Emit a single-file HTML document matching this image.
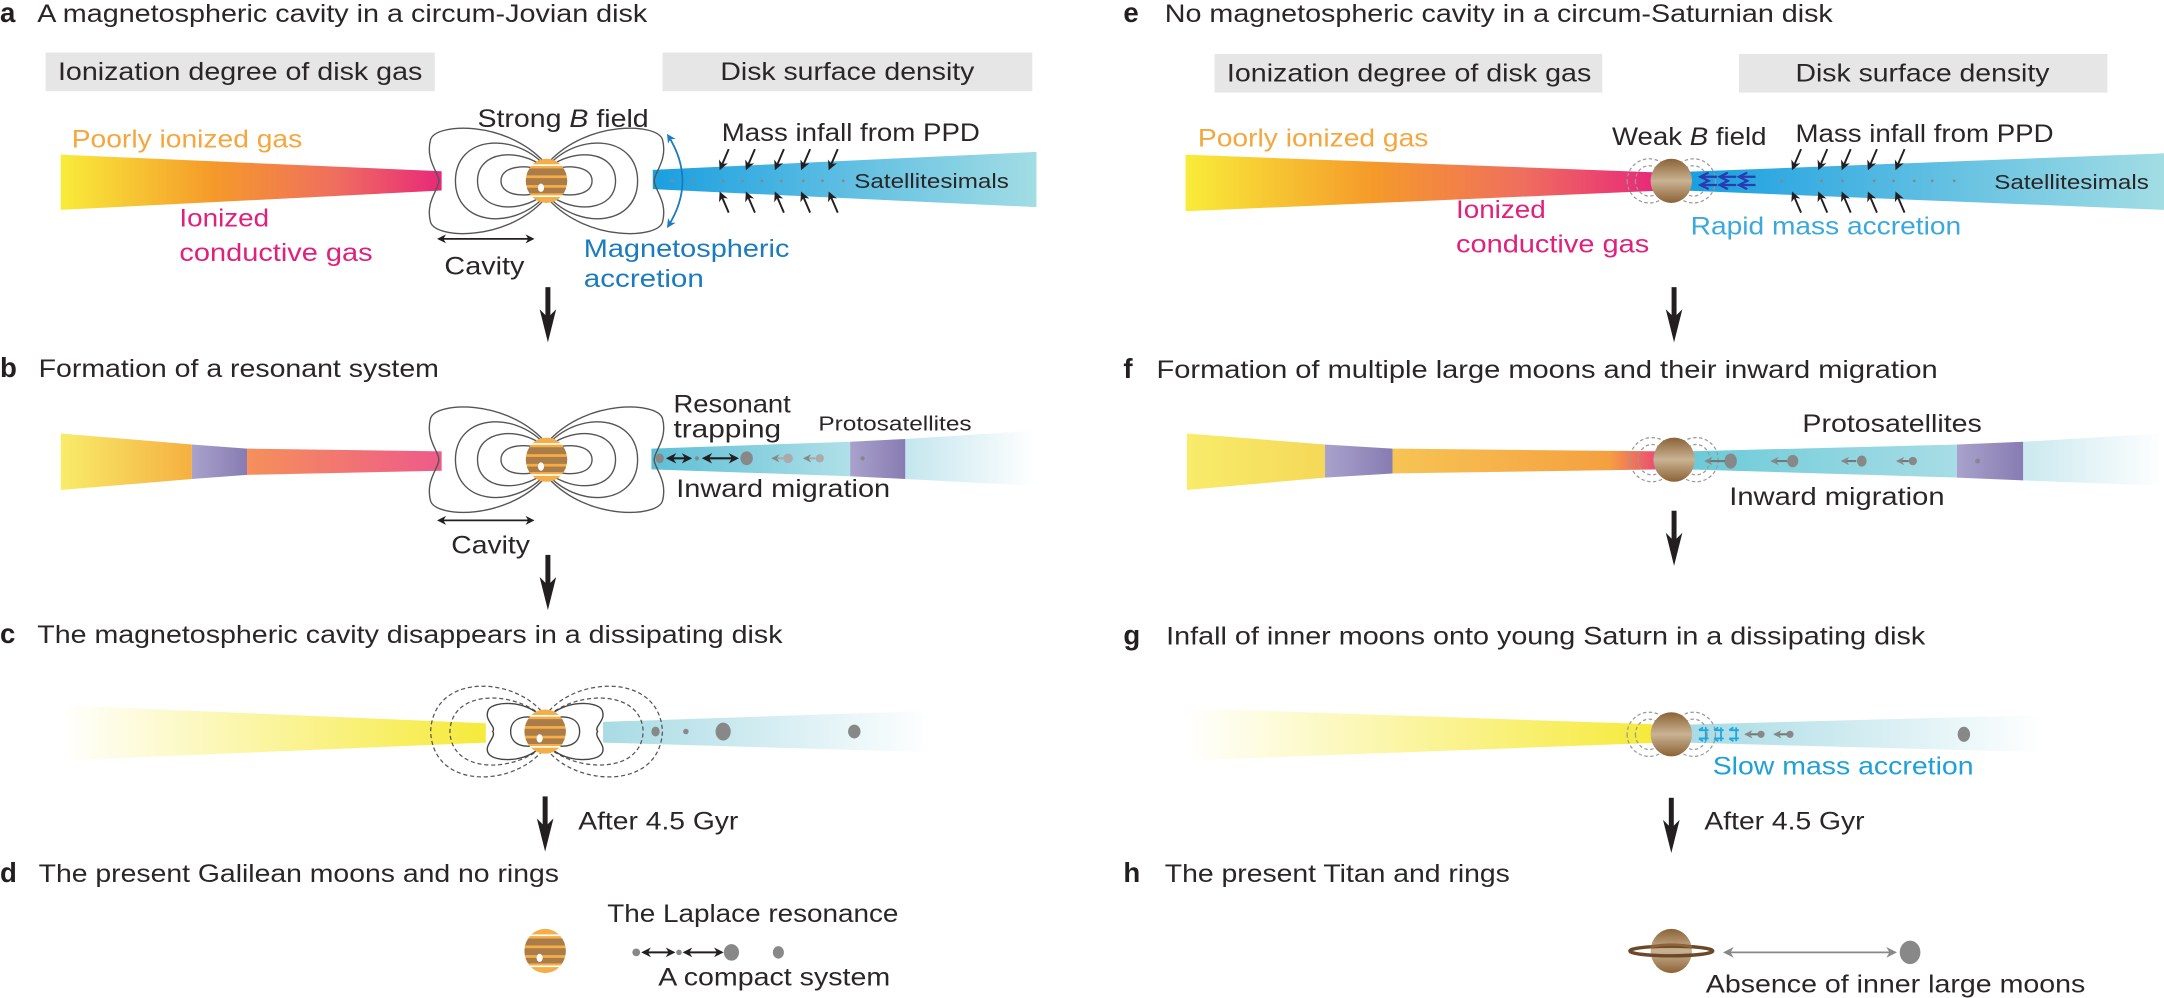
<!DOCTYPE html>
<html><head><meta charset="utf-8"><style>
html,body{margin:0;padding:0;background:#fff;}
svg{display:block;}
text{font-family:"Liberation Sans",sans-serif;fill:#2a2627;}
.b{font-weight:bold;fill:#231f20;}
</style></head><body>
<svg width="2164" height="998" viewBox="0 0 1568 723" xmlns="http://www.w3.org/2000/svg">
<defs>
<linearGradient id="gaL" gradientUnits="userSpaceOnUse" x1="44" x2="320"><stop offset="0" stop-color="#f8ec3a"/><stop offset="0.4" stop-color="#f59a2a"/><stop offset="0.72" stop-color="#ef6e5e"/><stop offset="1" stop-color="#e8287a"/></linearGradient>
<linearGradient id="gaR" gradientUnits="userSpaceOnUse" x1="473" x2="751"><stop offset="0" stop-color="#1a9fe0"/><stop offset="1" stop-color="#a2dde4"/></linearGradient>
<linearGradient id="geL" gradientUnits="userSpaceOnUse" x1="859" x2="1199"><stop offset="0" stop-color="#f8ec3a"/><stop offset="0.4" stop-color="#f59a2a"/><stop offset="0.72" stop-color="#ef6e5e"/><stop offset="1" stop-color="#e8287a"/></linearGradient>
<linearGradient id="geR" gradientUnits="userSpaceOnUse" x1="1226" x2="1568"><stop offset="0" stop-color="#1a9fe0"/><stop offset="1" stop-color="#a2dde4"/></linearGradient>
<linearGradient id="gb1" gradientUnits="userSpaceOnUse" x1="44" x2="139"><stop offset="0" stop-color="#f8ec6a"/><stop offset="1" stop-color="#f5b040"/></linearGradient>
<linearGradient id="gb2" gradientUnits="userSpaceOnUse" x1="179" x2="320"><stop offset="0" stop-color="#f5905a"/><stop offset="1" stop-color="#ee5a8a"/></linearGradient>
<linearGradient id="gpur" x1="0" x2="1"><stop offset="0" stop-color="#a9a2cc"/><stop offset="1" stop-color="#877cb2"/></linearGradient>
<linearGradient id="gb3" gradientUnits="userSpaceOnUse" x1="472" x2="616"><stop offset="0" stop-color="#5dbfd5"/><stop offset="1" stop-color="#b0e0e8"/></linearGradient>
<linearGradient id="gb4" gradientUnits="userSpaceOnUse" x1="656" x2="750"><stop offset="0" stop-color="#c4e6ee"/><stop offset="1" stop-color="#ffffff"/></linearGradient>
<linearGradient id="gf1" gradientUnits="userSpaceOnUse" x1="860" x2="960"><stop offset="0" stop-color="#f8ec6a"/><stop offset="1" stop-color="#f5d858"/></linearGradient>
<linearGradient id="gf2" gradientUnits="userSpaceOnUse" x1="1009" x2="1205"><stop offset="0" stop-color="#f6c454"/><stop offset="0.8" stop-color="#f5a040"/><stop offset="1" stop-color="#e8407a"/></linearGradient>
<linearGradient id="gf3" gradientUnits="userSpaceOnUse" x1="1229" x2="1419"><stop offset="0" stop-color="#6ccbd8"/><stop offset="1" stop-color="#a8dde6"/></linearGradient>
<linearGradient id="gf4" gradientUnits="userSpaceOnUse" x1="1466" x2="1568"><stop offset="0" stop-color="#cbe9ef"/><stop offset="1" stop-color="#ffffff"/></linearGradient>
<linearGradient id="gcL" gradientUnits="userSpaceOnUse" x1="44" x2="352"><stop offset="0" stop-color="#f6ea3a" stop-opacity="0"/><stop offset="1" stop-color="#f6ea3a"/></linearGradient>
<linearGradient id="gcR" gradientUnits="userSpaceOnUse" x1="437" x2="675"><stop offset="0" stop-color="#a8dbe4"/><stop offset="1" stop-color="#a8dbe4" stop-opacity="0"/></linearGradient>
<linearGradient id="ggL" gradientUnits="userSpaceOnUse" x1="859" x2="1199"><stop offset="0" stop-color="#f6ea3a" stop-opacity="0"/><stop offset="1" stop-color="#f6ea3a"/></linearGradient>
<linearGradient id="ggR" gradientUnits="userSpaceOnUse" x1="1226" x2="1480"><stop offset="0" stop-color="#a8dbe4"/><stop offset="1" stop-color="#a8dbe4" stop-opacity="0"/></linearGradient>
<linearGradient id="gsat" x1="0" y1="0" x2="0" y2="1"><stop offset="0" stop-color="#8c6236"/><stop offset="0.5" stop-color="#c9b393"/><stop offset="1" stop-color="#8c6236"/></linearGradient>
<clipPath id="jc"><ellipse cx="0" cy="0" rx="15" ry="16"/></clipPath>
<g id="jup">
 <ellipse cx="0" cy="0" rx="15" ry="16" fill="#f5ad45"/>
 <g clip-path="url(#jc)">
  <rect x="-16" y="-9" width="32" height="5" fill="#a97c4a"/>
  <rect x="-16" y="-2" width="32" height="5" fill="#a97c4a"/>
  <rect x="-16" y="5" width="32" height="4" fill="#a97c4a"/>
  <rect x="-16" y="-12" width="32" height="1.2" fill="#fff"/>
  <rect x="-16" y="10.5" width="32" height="1.2" fill="#fff"/>
 </g>
 <ellipse cx="-4" cy="5" rx="2.2" ry="3" fill="#fff"/>
</g>
<g id="sat"><ellipse cx="0" cy="0" rx="15" ry="16" fill="url(#gsat)"/></g>
<g id="half" fill="none" stroke="#555" stroke-width="1">
 <path d="M2,-7 C12,-12 33,-12 33,0 C33,12 12,12 2,7"/>
 <path d="M2,-10 C20,-24 50,-22 50,0 C50,22 20,24 2,10"/>
 <path d="M2,-12 C25,-36 66,-32 66,0 C66,32 25,36 2,12"/>
 <path d="M2,-14 C30,-44 80,-42 84,-30 C88,-15 78,-6 78,0 C78,6 88,15 84,30 C80,42 30,44 2,14"/>
</g>
<g id="field"><use href="#half"/><use href="#half" transform="scale(-1,1)"/></g>
<g id="shalf" fill="none" stroke="#999" stroke-width="0.9" stroke-dasharray="2.5,1.8">
 <ellipse cx="16" cy="0" rx="10" ry="11"/>
 <ellipse cx="16" cy="0" rx="16" ry="16"/>
</g>
<g id="sfield"><use href="#shalf"/><use href="#shalf" transform="scale(-1,1)"/></g>
<marker id="ah" viewBox="0 0 10 10" refX="8" refY="5" markerWidth="5" markerHeight="5" orient="auto-start-reverse"><path d="M0,0 L10,5 L0,10 L3,5 z" fill="#231f20"/></marker>
<marker id="ahb" viewBox="0 0 10 10" refX="8" refY="5" markerWidth="5" markerHeight="5" orient="auto-start-reverse"><path d="M0,0 L10,5 L0,10 L3,5 z" fill="#1a7bbf"/></marker>
<marker id="ahg" viewBox="0 0 10 10" refX="8" refY="5" markerWidth="4" markerHeight="4" orient="auto-start-reverse"><path d="M0,0 L10,5 L0,10 L3,5 z" fill="#888"/></marker>
<marker id="ahg2" viewBox="0 0 10 10" refX="8" refY="5" markerWidth="6" markerHeight="6" orient="auto-start-reverse"><path d="M0,0 L10,5 L0,10 L3,5 z" fill="#888"/></marker>
<g id="bigarrow"><rect x="-1.8" y="0" width="3.6" height="22" fill="#231f20"/><path d="M-6,16 L0,40 L6,16 L0,22 z" fill="#231f20"/></g>
</defs>

<!-- ===== a ===== -->
<text x="0" y="16" font-size="20" class="b">a</text>
<text x="27" y="16" font-size="18" textLength="442" lengthAdjust="spacingAndGlyphs">A magnetospheric cavity in a circum-Jovian disk</text>
<rect x="33" y="38" width="282" height="28" fill="#e6e6e7"/>
<rect x="480" y="38" width="268" height="28" fill="#e6e6e7"/>
<text x="42" y="58" font-size="18" textLength="264" lengthAdjust="spacingAndGlyphs">Ionization degree of disk gas</text>
<text x="522" y="58" font-size="18" textLength="184" lengthAdjust="spacingAndGlyphs">Disk surface density</text>
<polygon points="44,112 320,124 320,138 44,152" fill="url(#gaL)"/>
<polygon points="473,123 751,110 751,150 473,137" fill="url(#gaR)"/>
<g fill="#888"><circle cx="487" cy="131" r="1"/><circle cx="502" cy="131" r="1"/><circle cx="524" cy="131" r="1"/><circle cx="538" cy="131" r="1"/><circle cx="552" cy="131" r="1"/><circle cx="566" cy="131" r="1"/><circle cx="582" cy="131" r="1"/><circle cx="596" cy="131" r="1"/><circle cx="611" cy="131" r="1"/></g>
<use href="#field" x="396" y="131"/>
<use href="#jup" x="396" y="131"/>
<path d="M484,98 Q505,131 484,164" fill="none" stroke="#1a7bbf" stroke-width="1.3" marker-start="url(#ahb)" marker-end="url(#ahb)"/>
<g stroke="#231f20" stroke-width="1.4" marker-end="url(#ah)">
<line x1="528" y1="108" x2="522" y2="122"/><line x1="547" y1="108" x2="541" y2="122"/><line x1="568" y1="108" x2="562" y2="122"/><line x1="587" y1="108" x2="581" y2="122"/><line x1="607" y1="108" x2="601" y2="122"/>
<line x1="528" y1="154" x2="522" y2="140"/><line x1="547" y1="154" x2="541" y2="140"/><line x1="568" y1="154" x2="562" y2="140"/><line x1="587" y1="154" x2="581" y2="140"/><line x1="607" y1="154" x2="601" y2="140"/>
</g>
<line x1="318" y1="173" x2="386" y2="173" stroke="#231f20" stroke-width="1.3" marker-start="url(#ah)" marker-end="url(#ah)"/>
<text x="52" y="107" font-size="18" style="fill:#f5a63c" textLength="167" lengthAdjust="spacingAndGlyphs">Poorly ionized gas</text>
<text x="130" y="164" font-size="18" style="fill:#e0207a" textLength="65" lengthAdjust="spacingAndGlyphs">Ionized</text>
<text x="130" y="189" font-size="18" style="fill:#e0207a" textLength="140" lengthAdjust="spacingAndGlyphs">conductive gas</text>
<text x="346" y="92" font-size="18" textLength="124" lengthAdjust="spacingAndGlyphs">Strong <tspan font-style="italic">B</tspan> field</text>
<text x="523" y="102" font-size="18" textLength="187" lengthAdjust="spacingAndGlyphs">Mass infall from PPD</text>
<text x="619" y="136" font-size="15" textLength="112" lengthAdjust="spacingAndGlyphs">Satellitesimals</text>
<text x="322" y="199" font-size="18" textLength="58" lengthAdjust="spacingAndGlyphs">Cavity</text>
<text x="423" y="186" font-size="18" style="fill:#1a7bbf" textLength="149" lengthAdjust="spacingAndGlyphs">Magnetospheric</text>
<text x="423" y="208" font-size="18" style="fill:#1a7bbf" textLength="87" lengthAdjust="spacingAndGlyphs">accretion</text>
<use href="#bigarrow" x="397" y="208"/>

<!-- ===== b ===== -->
<text x="0" y="273" font-size="20" class="b">b</text>
<text x="28" y="273" font-size="18" textLength="290" lengthAdjust="spacingAndGlyphs">Formation of a resonant system</text>
<polygon points="44,314 139,322 139,347 44,355" fill="url(#gb1)"/>
<polygon points="139,322 179,325 179,344 139,347" fill="url(#gpur)"/>
<polygon points="179,325 320,327 320,341 179,344" fill="url(#gb2)"/>
<polygon points="472,325 616,320 616,345 472,340" fill="url(#gb3)"/>
<polygon points="616,320 656,318 656,347 616,345" fill="url(#gpur)"/>
<polygon points="656,318 750,312 750,352 656,347" fill="url(#gb4)"/>
<use href="#field" x="396" y="333"/>
<use href="#jup" x="396" y="333"/>
<g fill="#888"><ellipse cx="478" cy="332" rx="3" ry="3.5"/><circle cx="505" cy="332" r="1.5"/><ellipse cx="541" cy="332" rx="4.5" ry="5"/><circle cx="571" cy="332" r="3.5" fill="#aaa"/><circle cx="594" cy="332" r="3" fill="#aaa"/><circle cx="625" cy="332" r="1.6"/></g>
<line x1="484" y1="332" x2="500" y2="332" stroke="#231f20" stroke-width="1.5" marker-start="url(#ah)" marker-end="url(#ah)"/>
<line x1="510" y1="332" x2="534" y2="332" stroke="#231f20" stroke-width="1.5" marker-start="url(#ah)" marker-end="url(#ah)"/>
<line x1="568" y1="332" x2="560" y2="332" stroke="#aaa" stroke-width="1.5" marker-end="url(#ahg)"/>
<line x1="591" y1="332" x2="583" y2="332" stroke="#aaa" stroke-width="1.5" marker-end="url(#ahg)"/>
<text x="488" y="299" font-size="18" textLength="85" lengthAdjust="spacingAndGlyphs">Resonant</text>
<text x="488" y="317" font-size="18" textLength="78" lengthAdjust="spacingAndGlyphs">trapping</text>
<text x="593" y="312" font-size="15" textLength="111" lengthAdjust="spacingAndGlyphs">Protosatellites</text>
<text x="490" y="360" font-size="18" textLength="155" lengthAdjust="spacingAndGlyphs">Inward migration</text>
<line x1="318" y1="377" x2="386" y2="377" stroke="#231f20" stroke-width="1.3" marker-start="url(#ah)" marker-end="url(#ah)"/>
<text x="327" y="401" font-size="18" textLength="57" lengthAdjust="spacingAndGlyphs">Cavity</text>
<use href="#bigarrow" x="397" y="402"/>

<!-- ===== c ===== -->
<text x="0" y="466" font-size="20" class="b">c</text>
<text x="27" y="466" font-size="18" textLength="540" lengthAdjust="spacingAndGlyphs">The magnetospheric cavity disappears in a dissipating disk</text>
<polygon points="44,511 352,524 352,538 44,551" fill="url(#gcL)"/>
<polygon points="437,523 675,515 675,545 437,538" fill="url(#gcR)"/>
<g fill="none" stroke="#555" stroke-width="0.9" stroke-dasharray="3,2">
<path d="M398,515 C420,490 478,488 480,530 C478,572 420,570 398,545"/>
<path d="M398,518 C420,500 465,500 466,530 C465,560 420,560 398,542"/>
<path d="M392,515 C370,490 314,488 312,530 C314,572 370,570 392,545"/>
<path d="M392,518 C370,500 327,500 326,530 C327,560 370,560 392,542"/>
</g>
<g fill="none" stroke="#444" stroke-width="1">
<path d="M398,519 C410,507 432,508 436,514 C440,522 430,526 433,530 C430,534 440,540 436,546 C432,552 410,553 398,541"/>
<path d="M398,522 C407,517 420,519 420,530 C420,541 407,543 398,538"/>
<path d="M392,519 C380,507 358,508 354,514 C350,522 360,526 357,530 C360,534 350,540 354,546 C358,552 380,553 392,541"/>
<path d="M392,522 C383,517 370,519 370,530 C370,541 383,543 392,538"/>
</g>
<use href="#jup" x="395" y="530"/>
<g fill="#888"><ellipse cx="475" cy="530" rx="3" ry="3.6"/><circle cx="497" cy="530" r="2"/><ellipse cx="524" cy="530" rx="5.5" ry="6.5"/><ellipse cx="619" cy="530" rx="4.5" ry="5"/></g>
<use href="#bigarrow" x="395" y="577"/>
<text x="419" y="601" font-size="18" textLength="116" lengthAdjust="spacingAndGlyphs">After 4.5 Gyr</text>

<!-- ===== d ===== -->
<text x="0" y="639" font-size="20" class="b">d</text>
<text x="28" y="639" font-size="18" textLength="377" lengthAdjust="spacingAndGlyphs">The present Galilean moons and no rings</text>
<use href="#jup" x="395" y="689"/>
<text x="440" y="668" font-size="18" textLength="211" lengthAdjust="spacingAndGlyphs">The Laplace resonance</text>
<g fill="#888"><circle cx="461" cy="690" r="2.8"/><circle cx="492" cy="690" r="2"/><ellipse cx="530" cy="690" rx="5.5" ry="6"/><ellipse cx="564" cy="690" rx="4" ry="4.5"/></g>
<line x1="466" y1="690" x2="488" y2="690" stroke="#231f20" stroke-width="1.4" marker-start="url(#ah)" marker-end="url(#ah)"/>
<line x1="496" y1="690" x2="523" y2="690" stroke="#231f20" stroke-width="1.4" marker-start="url(#ah)" marker-end="url(#ah)"/>
<text x="477" y="714" font-size="18" textLength="168" lengthAdjust="spacingAndGlyphs">A compact system</text>

<!-- ===== e ===== -->
<text x="814" y="16" font-size="20" class="b">e</text>
<text x="844" y="16" font-size="18" textLength="484" lengthAdjust="spacingAndGlyphs">No magnetospheric cavity in a circum-Saturnian disk</text>
<rect x="880" y="39" width="281" height="28" fill="#e6e6e7"/>
<rect x="1260" y="39" width="267" height="28" fill="#e6e6e7"/>
<text x="889" y="59" font-size="18" textLength="264" lengthAdjust="spacingAndGlyphs">Ionization degree of disk gas</text>
<text x="1301" y="59" font-size="18" textLength="184" lengthAdjust="spacingAndGlyphs">Disk surface density</text>
<polygon points="859,112 1205,125 1205,138 859,153" fill="url(#geL)"/>
<polygon points="1220,124.5 1568,111 1568,152 1220,138" fill="url(#geR)"/>
<g fill="#888"><circle cx="1291" cy="131" r="1"/><circle cx="1320" cy="131" r="1"/><circle cx="1335" cy="131" r="1"/><circle cx="1358" cy="131" r="1"/><circle cx="1372" cy="131" r="1"/><circle cx="1387" cy="131" r="1"/><circle cx="1400" cy="131" r="1"/><circle cx="1416" cy="131" r="1"/></g>
<use href="#sfield" x="1211" y="131"/>
<use href="#sat" x="1211" y="131"/>
<g fill="none" stroke="#2a3ab0" stroke-width="1.6">
<path d="M1238,125 L1232,128 L1238,131 L1232,134 L1238,137"/><path d="M1252,125 L1246,128 L1252,131 L1246,134 L1252,137"/><path d="M1266,125 L1260,128 L1266,131 L1260,134 L1266,137"/>
<line x1="1232" y1="128" x2="1244" y2="128"/><line x1="1232" y1="134" x2="1244" y2="134"/><line x1="1246" y1="128" x2="1258" y2="128"/><line x1="1246" y1="134" x2="1258" y2="134"/><line x1="1260" y1="128" x2="1272" y2="128"/><line x1="1260" y1="134" x2="1272" y2="134"/>
</g>
<g stroke="#231f20" stroke-width="1.4" marker-end="url(#ah)">
<line x1="1305" y1="108" x2="1299" y2="122"/><line x1="1324" y1="108" x2="1318" y2="122"/><line x1="1341" y1="108" x2="1335" y2="122"/><line x1="1360" y1="108" x2="1354" y2="122"/><line x1="1380" y1="108" x2="1374" y2="122"/>
<line x1="1305" y1="154" x2="1299" y2="140"/><line x1="1324" y1="154" x2="1318" y2="140"/><line x1="1341" y1="154" x2="1335" y2="140"/><line x1="1360" y1="154" x2="1354" y2="140"/><line x1="1380" y1="154" x2="1374" y2="140"/>
</g>
<text x="868" y="106" font-size="18" style="fill:#f5a63c" textLength="167" lengthAdjust="spacingAndGlyphs">Poorly ionized gas</text>
<text x="1055" y="158" font-size="18" style="fill:#e0207a" textLength="65" lengthAdjust="spacingAndGlyphs">Ionized</text>
<text x="1055" y="183" font-size="18" style="fill:#e0207a" textLength="140" lengthAdjust="spacingAndGlyphs">conductive gas</text>
<text x="1168" y="105" font-size="18" textLength="112" lengthAdjust="spacingAndGlyphs">Weak <tspan font-style="italic">B</tspan> field</text>
<text x="1301" y="103" font-size="18" textLength="187" lengthAdjust="spacingAndGlyphs">Mass infall from PPD</text>
<text x="1445" y="137" font-size="15" textLength="112" lengthAdjust="spacingAndGlyphs">Satellitesimals</text>
<text x="1225" y="170" font-size="18" style="fill:#3aa8dc" textLength="196" lengthAdjust="spacingAndGlyphs">Rapid mass accretion</text>
<use href="#bigarrow" x="1213" y="208"/>

<!-- ===== f ===== -->
<text x="814" y="274" font-size="20" class="b">f</text>
<text x="838" y="274" font-size="18" textLength="566" lengthAdjust="spacingAndGlyphs">Formation of multiple large moons and their inward migration</text>
<polygon points="860,314 960,322 960,346 860,355" fill="url(#gf1)"/>
<polygon points="960,322 1009,325 1009,343 960,346" fill="url(#gpur)"/>
<polygon points="1009,325 1205,327 1205,340 1009,343" fill="url(#gf2)"/>
<polygon points="1222,327 1419,322 1419,346 1222,340" fill="url(#gf3)"/>
<polygon points="1418,322 1466,320 1466,348 1418,346" fill="url(#gpur)"/>
<polygon points="1466,320 1568,314 1568,352 1466,348" fill="url(#gf4)"/>
<use href="#sfield" x="1213" y="333"/>
<use href="#sat" x="1213" y="333"/>
<g fill="#888"><ellipse cx="1254" cy="334" rx="4.5" ry="5.5"/><ellipse cx="1299" cy="334" rx="4" ry="4.5"/><ellipse cx="1349" cy="334" rx="3.5" ry="4"/><circle cx="1386" cy="334" r="3"/><circle cx="1433" cy="334" r="1.8"/></g>
<g stroke="#777" stroke-width="1.5" marker-end="url(#ahg)"><line x1="1250" y1="334" x2="1236" y2="334"/><line x1="1295" y1="334" x2="1284" y2="334"/><line x1="1345" y1="334" x2="1335" y2="334"/><line x1="1383" y1="334" x2="1375" y2="334"/></g>
<text x="1306" y="313" font-size="18" textLength="130" lengthAdjust="spacingAndGlyphs">Protosatellites</text>
<text x="1253" y="366" font-size="18" textLength="156" lengthAdjust="spacingAndGlyphs">Inward migration</text>
<use href="#bigarrow" x="1213" y="370"/>

<!-- ===== g ===== -->
<text x="814" y="467" font-size="20" class="b">g</text>
<text x="845" y="467" font-size="18" textLength="550" lengthAdjust="spacingAndGlyphs">Infall of inner moons onto young Saturn in a dissipating disk</text>
<polygon points="859,513 1205,525 1205,538 859,551" fill="url(#ggL)"/>
<polygon points="1222,525 1480,518 1480,545 1222,538" fill="url(#ggR)"/>
<use href="#sfield" x="1211" y="532"/>
<use href="#sat" x="1211" y="532"/>
<g fill="none" stroke="#1fa8e0" stroke-width="1.3">
<path d="M1234,527 L1231,529 M1234,537 L1231,535 M1231,529 L1238,529 M1231,535 L1238,535 M1236,527 L1236,537"/>
<path d="M1245,527 L1242,529 M1245,537 L1242,535 M1242,529 L1249,529 M1242,535 L1249,535 M1247,527 L1247,537"/>
<path d="M1256,527 L1253,529 M1256,537 L1253,535 M1253,529 L1260,529 M1253,535 L1260,535 M1258,527 L1258,537"/>
</g>
<g fill="#888"><circle cx="1276" cy="532" r="2.6"/><circle cx="1297" cy="532" r="2.6"/><ellipse cx="1423" cy="532" rx="4.5" ry="5.5"/></g>
<g stroke="#777" stroke-width="1.5" marker-end="url(#ahg)"><line x1="1274" y1="532" x2="1265" y2="532"/><line x1="1295" y1="532" x2="1286" y2="532"/></g>
<text x="1241" y="561" font-size="18" style="fill:#1fa0d8" textLength="189" lengthAdjust="spacingAndGlyphs">Slow mass accretion</text>
<use href="#bigarrow" x="1211" y="578"/>
<text x="1235" y="601" font-size="18" textLength="116" lengthAdjust="spacingAndGlyphs">After 4.5 Gyr</text>

<!-- ===== h ===== -->
<text x="814" y="639" font-size="20" class="b">h</text>
<text x="844" y="639" font-size="18" textLength="250" lengthAdjust="spacingAndGlyphs">The present Titan and rings</text>
<use href="#sat" x="1211" y="689"/>
<ellipse cx="1211" cy="689" rx="30" ry="3.5" fill="none" stroke="#6b4828" stroke-width="2.5"/>
<path d="M1196,686 Q1211,683 1226,686" stroke="#8c6236" stroke-width="2" fill="none"/>
<line x1="1250" y1="690" x2="1373" y2="690" stroke="#888" stroke-width="1.3" marker-start="url(#ahg2)" marker-end="url(#ahg2)"/>
<ellipse cx="1384" cy="690" rx="7.5" ry="8.5" fill="#888"/>
<text x="1236" y="719" font-size="18" textLength="275" lengthAdjust="spacingAndGlyphs">Absence of inner large moons</text>
</svg>
</body></html>
